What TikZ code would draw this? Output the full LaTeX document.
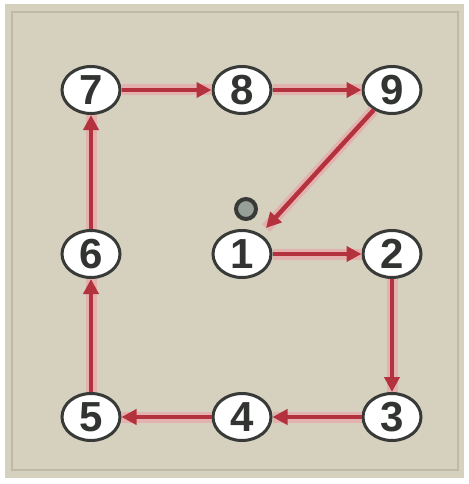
\documentclass[tikz,border=0pt]{standalone}
\usepackage{fontspec}
\setmainfont{Liberation Sans}
\usetikzlibrary{arrows.meta,shapes.geometric}
\definecolor{panel}{RGB}{214,208,190}
\definecolor{panelline}{RGB}{192,184,162}
\definecolor{arr}{RGB}{180,50,62}
\definecolor{glow}{RGB}{240,150,160}
\definecolor{ring}{RGB}{55,58,55}
\definecolor{dotfill}{RGB}{150,160,152}
\tikzset{
  num/.style={ellipse, draw=ring, line width=3pt, fill=white, minimum width=58pt, minimum height=47pt, inner sep=0pt,
    font=\fontsize{42}{42}\selectfont\bfseries, text=ring!90!black},
  flow/.style={draw=arr, line width=4.5pt, -{Triangle[length=15pt,width=15pt]},
    preaction={draw=glow, line width=11pt, opacity=0.5, -}},
}
\begin{document}
\begin{tikzpicture}[x=1pt,y=-1pt]
\useasboundingbox (0,0) rectangle (468,484);
\fill[white] (0,0) rectangle (468,484);
\fill[panel] (5,4) rectangle (464,478);
\draw[panelline, line width=1.5pt] (12,12) rectangle (458,470);
\node[num] (n7) at (91,90) {7};
\node[num] (n8) at (242,90) {8};
\node[num] (n9) at (392,90) {9};
\node[num] (n6) at (91,254) {6};
\node[num] (n1) at (242,254) {1};
\node[num] (n2) at (392,254) {2};
\node[num] (n5) at (91,417) {5};
\node[num] (n4) at (242,417) {4};
\node[num] (n3) at (392,417) {3};
\node[circle, draw=ring, line width=4pt, fill=dotfill, minimum size=20pt, inner sep=0pt] (o) at (246,209) {};
\coordinate (t9) at (266,228);
\draw[flow] (n7) -- (n8);
\draw[flow] (n8) -- (n9);
\draw[flow] (n9) -- (t9);
\draw[flow] (n1) -- (n2);
\draw[flow] (n2) -- (n3);
\draw[flow] (n3) -- (n4);
\draw[flow] (n4) -- (n5);
\draw[flow] (n5) -- (n6);
\draw[flow] (n6) -- (n7);
\end{tikzpicture}
\end{document}
